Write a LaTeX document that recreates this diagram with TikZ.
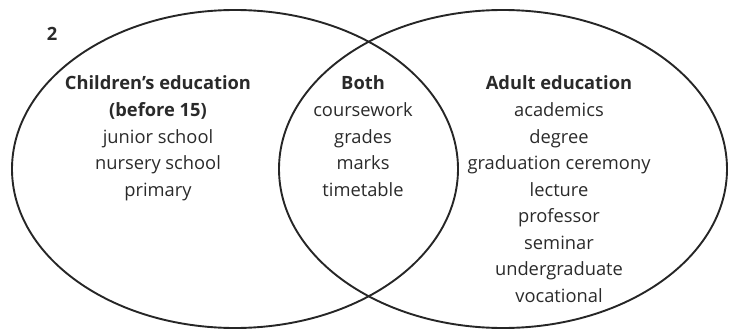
\documentclass[tikz,border=0pt]{standalone}
\usepackage{fontspec}
\setmainfont{Open Sans}
\definecolor{ink}{HTML}{262626}
\definecolor{txt}{HTML}{2A2A2A}
\begin{document}
\begin{tikzpicture}[x=1pt,y=-1pt,
  venn/.style={draw=ink,line width=1.9pt},
  word/.style={text=txt,inner sep=0pt,anchor=base,font=\fontsize{18.3}{20}\selectfont},
  head/.style={word,font=\fontsize{18.3}{20}\selectfont\bfseries}]
\useasboundingbox (0,0) rectangle (734,329);
\draw[venn] (235,169) ellipse [x radius=223, y radius=159];
\draw[venn] (503,169) ellipse [x radius=224, y radius=159];
\node[head] (num) at (52,41) {2};
% left group
\node[head] (l0) at (158,90) {Children’s education};
\node[head] (l1) at (158,116.5) {(before 15)};
\node[word] (l2) at (158,143) {junior school};
\node[word] (l3) at (158,169.5) {nursery school};
\node[word] (l4) at (158,196) {primary};
% both group
\node[head] (b0) at (363,90) {Both};
\node[word] (b1) at (363,116.5) {coursework};
\node[word] (b2) at (363,143) {grades};
\node[word] (b3) at (363,169.5) {marks};
\node[word] (b4) at (363,196) {timetable};
% right group
\node[head] (r0) at (559,90) {Adult education};
\node[word] (r1) at (559,116.5) {academics};
\node[word] (r2) at (559,143) {degree};
\node[word] (r3) at (559,169.5) {graduation ceremony};
\node[word] (r4) at (559,196) {lecture};
\node[word] (r5) at (559,222.5) {professor};
\node[word] (r6) at (559,249) {seminar};
\node[word] (r7) at (559,275.5) {undergraduate};
\node[word] (r8) at (559,302) {vocational};
\end{tikzpicture}
\end{document}
